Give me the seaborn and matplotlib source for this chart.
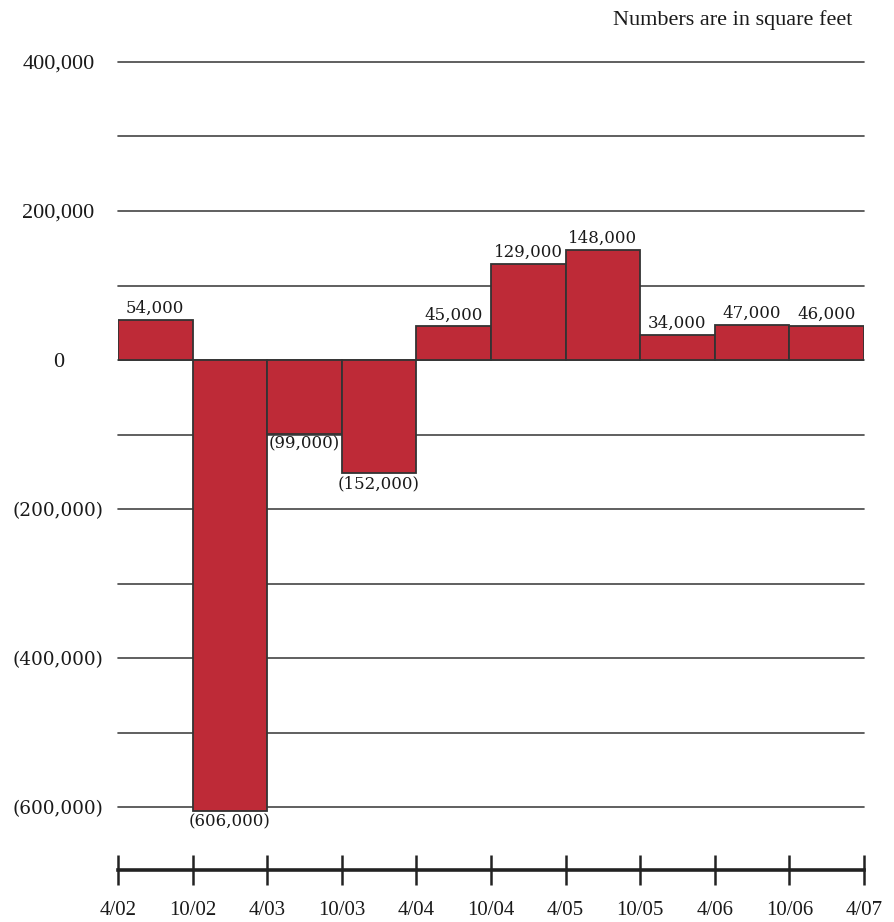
import matplotlib
matplotlib.use("Agg")
import matplotlib.pyplot as plt
import seaborn as sns
import pandas as pd
import numpy as np

# ---- data ----
periods = ["4/02-10/02", "10/02-4/03", "4/03-10/03", "10/03-4/04", "4/04-10/04",
           "10/04-4/05", "4/05-10/05", "10/05-4/06", "4/06-10/06", "10/06-4/07"]
values = [54000, -606000, -99000, -152000, 45000, 129000, 148000, 34000, 47000, 46000]
tick_labels = ["4/02", "10/02", "4/03", "10/03", "4/04", "10/04", "4/05",
               "10/05", "4/06", "10/06", "4/07"]
y_ticks = [400000, 200000, 0, -200000, -400000, -600000]
y_tick_labels = ["400,000", "200,000", "0", "(200,000)", "(400,000)", "(600,000)"]
note = "Numbers are in square feet"

sns.set_style("white")
plt.rcParams["font.family"] = ["Liberation Serif", "DejaVu Serif"]

BAR = "#BE2A37"
EDGE = "#333333"
GRID = "#444444"
TXT = "#1a1a1a"

fig = plt.figure(figsize=(8.95, 9.22), dpi=100)
W, H = 895, 922
left, right = 118, 864
top_px = 62          # y = 400,000
zero_px = 360
px_per_100k = (zero_px - top_px) / 4.0
ymin = -620000
bottom_px = zero_px + px_per_100k * (-ymin / 100000)
ax = fig.add_axes([left / W, 1 - bottom_px / H, (right - left) / W, (bottom_px - top_px) / H])

df = pd.DataFrame({"period": periods, "value": values})
sns.barplot(data=df, x="period", y="value", color=BAR, width=1.0, saturation=1,
            edgecolor=EDGE, linewidth=1.3, ax=ax, zorder=3)

ax.set_xlim(-0.5, len(periods) - 0.5)
ax.set_ylim(ymin, 400000)

# gridlines every 100k
for g in range(-600000, 400001, 100000):
    ax.axhline(g, color=GRID, lw=1.2, zorder=1, clip_on=False)

# value labels
for i, v in enumerate(values):
    txt = f"{v:,}" if v >= 0 else f"({-v:,})"
    if v >= 0:
        ax.annotate(txt, (i, v), xytext=(0, 3), textcoords="offset pixels",
                    ha="center", va="bottom", fontsize=12, family="DejaVu Serif",
                    color=TXT, zorder=4)
    else:
        ax.annotate(txt, (i, v), xytext=(0, -2), textcoords="offset pixels",
                    ha="center", va="top", fontsize=12, family="DejaVu Serif",
                    color=TXT, zorder=4)

# y ticks
ax.set_yticks(y_ticks)
ax.set_yticklabels(y_tick_labels)
ax.tick_params(axis="y", length=0, pad=43, labelsize=12, labelcolor=TXT)
for lbl in ax.get_yticklabels():
    lbl.set_horizontalalignment("center")
    if lbl.get_text().startswith("("):
        lbl.set_family("DejaVu Serif")
        lbl.set_fontsize(13.3)
    else:
        lbl.set_fontsize(16)

# x axis timeline
ax.set_xticks(np.arange(len(tick_labels)) - 0.5)
ax.set_xticklabels(tick_labels)
ax.set_xlabel("")
ax.set_ylabel("")
for s in ["top", "left", "right"]:
    ax.spines[s].set_visible(False)
ax.spines["bottom"].set_position(("outward", (870 - bottom_px) * 72 / 100))
ax.spines["bottom"].set_linewidth(2.6)
ax.spines["bottom"].set_color("#222222")
ax.tick_params(axis="x", direction="inout", length=22, width=1.8, color="#222222",
               pad=11, labelsize=15, labelcolor=TXT, bottom=True)

fig.text(852 / W, 1 - 20 / H, note, ha="right", va="center", fontsize=16, color=TXT)

fig.savefig("out.png", dpi=100)
